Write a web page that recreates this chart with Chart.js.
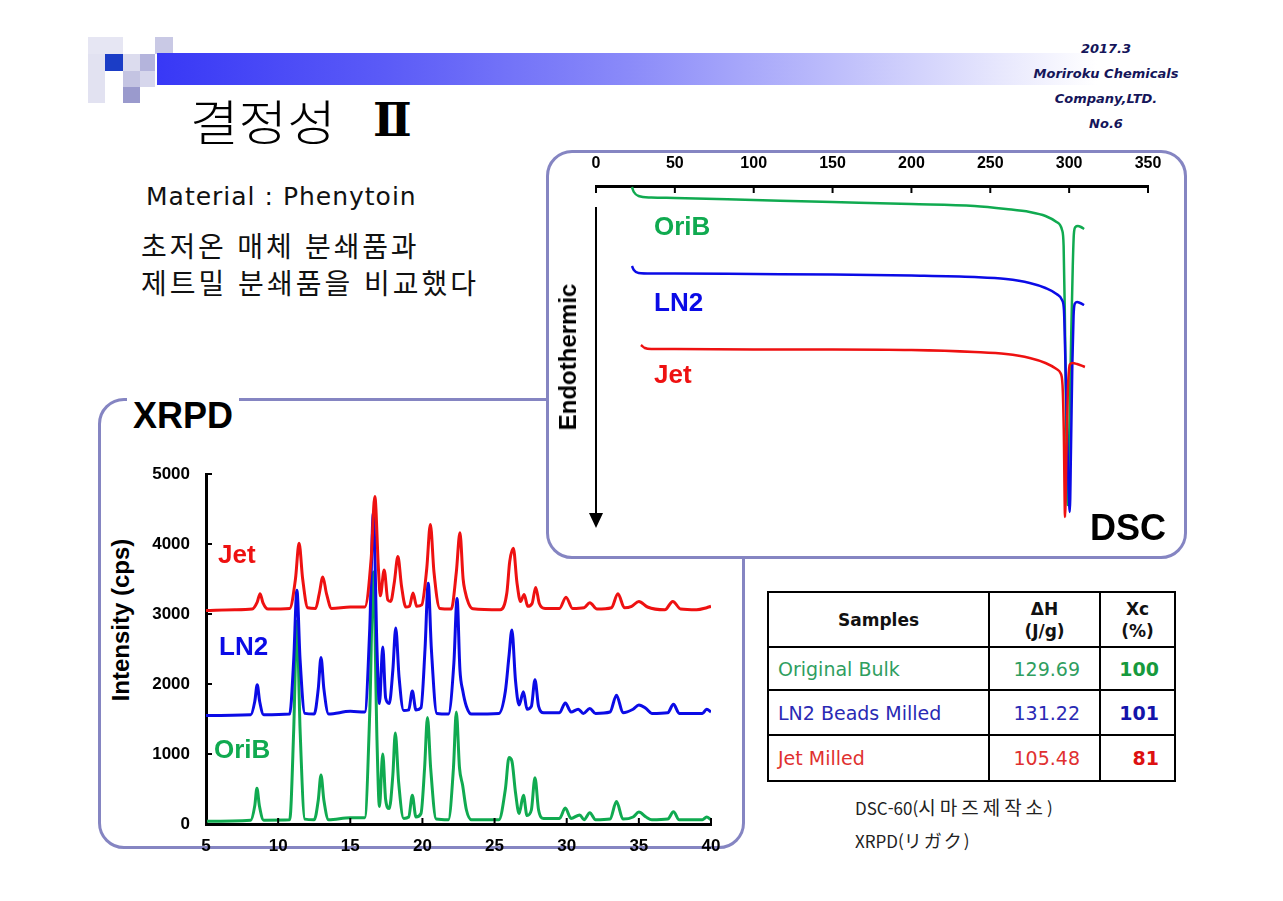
<!DOCTYPE html>
<html lang="ko">
<head>
<meta charset="utf-8">
<title>결정성 Ⅱ</title>
<script src="https://cdn.jsdelivr.net/npm/chart.js@4.4.1/dist/chart.umd.min.js"></script>
<style>
  html, body { margin: 0; padding: 0; background: #fff; }
  #slide { position: relative; width: 1283px; height: 901px; overflow: hidden; font-family: 'Liberation Sans', Arial, sans-serif; }
  .abs { position: absolute; white-space: nowrap; }
  .sq { position: absolute; }
  .corp { position: absolute; left: 1006px; width: 200px; text-align: center; font-family: 'DejaVu Sans', sans-serif; font-weight: bold; font-style: italic; font-size: 13px; color: #15155a; line-height: 16px; }
  .box { position: absolute; box-sizing: border-box; border: 3px solid #8585c2; border-radius: 26px; background: #fff; }
  .lbl { position: absolute; white-space: nowrap; font-weight: bold; line-height: 1; }
  .rot { position: absolute; white-space: nowrap; font-weight: bold; font-size: 24px; line-height: 1; transform: translate(-50%, -50%) rotate(-90deg); color: #000; }
  canvas { position: absolute; }
  table { position: absolute; left: 767px; top: 591px; border-collapse: collapse; table-layout: fixed; font-family: 'DejaVu Sans', sans-serif; }
  td { border: 2px solid #000; padding: 0; box-sizing: border-box; }
  td.h { font-weight: bold; font-size: 17px; text-align: center; line-height: 22px; color: #111; }
  td.n { font-size: 19px; padding-left: 9px; }
  td.v { font-size: 19px; text-align: right; padding-right: 19px; }
  td.x { font-size: 19px; font-weight: bold; text-align: right; padding-right: 15px; }
  .foot { position: absolute; left: 855px; font-family: 'Noto Sans CJK KR', sans-serif; font-size: 17px; color: #222; line-height: 1; white-space: nowrap; }
</style>
</head>
<body>
<div id="slide">
  <!-- header squares -->
  <div class="sq" style="left:88px;top:37px;width:35px;height:17px;background:#e6e6f3"></div>
  <div class="sq" style="left:155px;top:37px;width:18px;height:17px;background:#c9c9e5"></div>
  <div class="sq" style="left:88px;top:54px;width:17px;height:49px;background:#e2e2f1"></div>
  <div class="sq" style="left:105px;top:54px;width:18px;height:17px;background:#1b3dc6"></div>
  <div class="sq" style="left:123px;top:54px;width:17px;height:17px;background:#dcdcee"></div>
  <div class="sq" style="left:140px;top:54px;width:15px;height:17px;background:#b4b4dc"></div>
  <div class="sq" style="left:123px;top:71px;width:17px;height:16px;background:#c4c4e2"></div>
  <div class="sq" style="left:140px;top:71px;width:15px;height:16px;background:#d6d6ec"></div>
  <div class="sq" style="left:123px;top:87px;width:17px;height:16px;background:#9a9acd"></div>
  <div class="abs" style="left:157px;top:53px;width:940px;height:32px;background:linear-gradient(to right,#3838f6 0%,#5c5cf7 25%,#8a8af9 50%,#bdbdfb 72%,#e8e8fd 90%,#ffffff 100%)"></div>

  <div class="corp" style="top:41px">2017.3</div>
  <div class="corp" style="top:66px">Moriroku Chemicals</div>
  <div class="corp" style="top:91px">Company,LTD.</div>
  <div class="corp" style="top:116px">No.6</div>

  <div class="abs" style="left:190px;top:95px;font-family:'Noto Sans CJK KR',sans-serif;font-weight:300;font-size:48px;line-height:1;color:#000;transform:scaleX(1.1);transform-origin:left top">결정성</div>
  <div class="abs" style="left:373px;top:97px;font-family:'DejaVu Serif','Liberation Serif',serif;font-weight:bold;font-size:46px;line-height:1;color:#000">Ⅱ</div>

  <div class="abs" style="left:146px;top:183px;font-family:'DejaVu Sans',sans-serif;font-size:25px;line-height:28px;letter-spacing:1px;color:#111">Material : Phenytoin</div>
  <div class="abs" style="left:141px;top:229px;font-family:'Noto Sans CJK KR',sans-serif;font-size:28px;line-height:32px;letter-spacing:2.8px;color:#111">초저온 매체 분쇄품과</div>
  <div class="abs" style="left:141px;top:266px;font-family:'Noto Sans CJK KR',sans-serif;font-size:28px;line-height:32px;letter-spacing:3px;color:#111">제트밀 분쇄품을 비교했다</div>

  <!-- XRPD panel -->
  <div class="box" style="left:98px;top:398px;width:647px;height:451px"></div>
  <div class="lbl" style="left:127px;top:398px;font-size:36px;background:#fff;padding:0 6px;color:#000">XRPD</div>
  <div class="rot" style="left:121px;top:620px">Intensity (cps)</div>
  <canvas id="xrpd" width="630" height="400" style="left:100px;top:460px"></canvas>
  <div class="lbl" style="left:218px;top:541px;font-size:26px;color:#ee1111">Jet</div>
  <div class="lbl" style="left:219px;top:633px;font-size:26px;color:#0b0be6">LN2</div>
  <div class="lbl" style="left:214px;top:736px;font-size:26px;color:#10aa50">OriB</div>

  <!-- DSC panel -->
  <div class="box" style="left:546px;top:150px;width:641px;height:409px"></div>
  <canvas id="dsc" width="640" height="408" style="left:546px;top:150px"></canvas>
  <div class="rot" style="left:568px;top:357px">Endothermic</div>
  <div class="lbl" style="left:654px;top:213px;font-size:26px;color:#10aa50">OriB</div>
  <div class="lbl" style="left:654px;top:289px;font-size:26px;color:#0b0be6">LN2</div>
  <div class="lbl" style="left:654px;top:361px;font-size:26px;color:#ee1111">Jet</div>
  <div class="lbl" style="left:1090px;top:510px;font-size:36px;color:#000">DSC</div>

  <!-- result table -->
  <table style="width:407px">
    <colgroup><col style="width:221px"><col style="width:111px"><col style="width:75px"></colgroup>
    <tr style="height:55px">
      <td class="h">Samples</td>
      <td class="h">ΔH<br>(J/g)</td>
      <td class="h">Xc<br>(%)</td>
    </tr>
    <tr style="height:43px">
      <td class="n" style="color:#2f9e5f">Original Bulk</td>
      <td class="v" style="color:#2f9e5f">129.69</td>
      <td class="x" style="color:#169a3d">100</td>
    </tr>
    <tr style="height:45px">
      <td class="n" style="color:#2a2ab4">LN2 Beads Milled</td>
      <td class="v" style="color:#2a2ab4">131.22</td>
      <td class="x" style="color:#1414aa">101</td>
    </tr>
    <tr style="height:46px">
      <td class="n" style="color:#e03030">Jet Milled</td>
      <td class="v" style="color:#e03030">105.48</td>
      <td class="x" style="color:#dd1111">81</td>
    </tr>
  </table>

  <div class="foot" style="top:797px">DSC-60(<span style="font-size:19px;letter-spacing:4px">시마즈제작소</span>)</div>
  <div class="foot" style="top:831px">XRPD(<span style="font-size:18px;letter-spacing:2px">リガク</span>)</div>
</div>

<script>
// XRPD: 2-theta (deg) and intensity (cps)
const jetTheta = [5.0, 7.0, 8.2, 8.55, 8.75, 8.95, 9.3, 10.8, 11.2, 11.45, 11.7, 12.05, 12.6, 12.85, 13.1, 13.35, 13.7,
  15.0, 16.0, 16.45, 16.7, 16.95, 17.08, 17.35, 17.6, 17.8, 18.05, 18.3, 18.55, 18.85, 19.1, 19.35, 19.6, 19.95,
  20.3, 20.55, 20.8, 21.2, 22.0, 22.35, 22.6, 22.82, 22.95, 23.2, 23.5, 25.4, 25.85, 26.05, 26.3, 26.55, 26.8,
  27.05, 27.3, 27.6, 27.85, 28.1, 28.5, 29.5, 29.95, 30.4, 31.2, 31.6, 32.1, 33.1, 33.55, 34.0, 34.5, 35.0, 35.6,
  36.8, 37.35, 37.9, 39.0, 39.7, 40.0];
const jetCps = [3050, 3060, 3070, 3170, 3290, 3160, 3070, 3080, 3500, 4010, 3500, 3090, 3080, 3290, 3530, 3290, 3080,
  3100, 3100, 3800, 4680, 3650, 3260, 3630, 3200, 3180, 3450, 3820, 3400, 3100, 3110, 3300, 3110, 3130,
  3650, 4280, 3600, 3080, 3070, 3600, 4160, 3500, 3330, 3150, 3075, 3060, 3300, 3750, 3940, 3450, 3180,
  3280, 3110, 3150, 3380, 3150, 3080, 3080, 3240, 3080, 3090, 3160, 3070, 3090, 3290, 3090, 3110, 3180, 3100,
  3060, 3180, 3070, 3060, 3090, 3110];

const ln2Theta = [5.0, 8.1, 8.38, 8.55, 8.72, 9.0, 10.8, 11.08, 11.3, 11.52, 11.85, 12.5, 12.78, 12.97, 13.17, 13.5,
  15.0, 16.0, 16.35, 16.6, 16.85, 17.02, 17.25, 17.45, 17.7, 17.95, 18.15, 18.38, 18.7, 19.05, 19.3, 19.55, 19.9,
  20.18, 20.4, 20.62, 21.0, 21.8, 22.18, 22.4, 22.6, 22.8, 23.05, 23.4, 25.3, 25.75, 26.0, 26.2, 26.45, 26.7,
  27.0, 27.25, 27.55, 27.8, 28.05, 28.4, 29.5, 29.9, 30.3, 30.8, 31.15, 31.6, 32.0, 33.0, 33.45, 33.9,
  34.6, 35.0, 35.5, 35.9, 37.0, 37.4, 37.8, 39.4, 39.7, 40.0];
const ln2Cps = [1550, 1560, 1750, 1990, 1750, 1560, 1570, 2350, 3340, 2350, 1580, 1570, 1930, 2380, 1930, 1570,
  1610, 1600, 2800, 4450, 2500, 1720, 2530, 1800, 1720, 2200, 2800, 2100, 1620, 1630, 1900, 1630, 1660,
  2500, 3440, 2500, 1580, 1570, 2300, 3220, 2200, 1900, 1680, 1570, 1580, 1900, 2400, 2770, 2050, 1700,
  1890, 1640, 1680, 2060, 1680, 1590, 1590, 1730, 1600, 1640, 1580, 1650, 1580, 1600, 1840, 1590,
  1640, 1700, 1650, 1580, 1590, 1710, 1580, 1580, 1640, 1600];

const oribTheta = [5.0, 8.1, 8.38, 8.53, 8.7, 9.0, 10.8, 11.08, 11.3, 11.52, 11.85, 12.5, 12.78, 12.97, 13.17, 13.5,
  15.0, 16.0, 16.35, 16.6, 16.85, 17.02, 17.25, 17.45, 17.7, 17.95, 18.12, 18.35, 18.7, 19.05, 19.3, 19.55, 19.9,
  20.15, 20.35, 20.57, 20.95, 21.8, 22.15, 22.35, 22.57, 22.78, 23.05, 23.4, 25.3, 25.75, 26.0, 26.2, 26.45, 26.7,
  27.0, 27.25, 27.55, 27.8, 28.05, 28.4, 29.5, 29.9, 30.3, 30.9, 31.2, 31.6, 32.0, 33.0, 33.45, 33.9,
  34.6, 35.0, 35.5, 35.9, 37.0, 37.4, 37.8, 39.4, 39.7, 40.0];
const oribCps = [40, 55, 260, 510, 260, 55, 60, 1350, 2900, 1350, 70, 60, 340, 700, 340, 60,
  90, 90, 1600, 3600, 1200, 250, 1000, 350, 220, 700, 1300, 600, 80, 100, 410, 100, 150,
  800, 1520, 800, 70, 60, 800, 1600, 800, 560, 200, 60, 60, 500, 950, 900, 450, 150,
  410, 120, 200, 660, 200, 80, 80, 230, 80, 130, 60, 160, 60, 70, 320, 70,
  100, 170, 100, 60, 70, 175, 60, 60, 100, 60];

// DSC: temperature (deg C) and heat flow (arbitrary units, endothermic down)
const oribTemp = [22.8, 24, 27, 35, 50, 100, 150, 200, 240, 260, 275, 285, 292, 295.5, 296.5, 297.2, 298, 299,
  300.2, 301.3, 302.3, 303, 304, 305.5, 307.5, 309.5];
const oribFlow = [-0.1, -0.6, -1.0, -1.15, -1.2, -1.4, -1.6, -1.8, -2.0, -2.3, -2.6, -3.0, -3.6, -4.4, -6.0, -12.0, -22.0, -31.9,
  -24.0, -15.0, -8.0, -4.8, -4.1, -4.0, -4.1, -4.3];

const ln2Temp = [22.8, 24, 27, 35, 50, 100, 150, 200, 240, 260, 275, 285, 292, 295.5, 296.7, 297.6, 298.6, 299.6,
  300.4, 301.2, 302, 302.8, 303.5, 305, 307, 309.5];
const ln2Flow = [-8.0, -8.4, -8.7, -8.75, -8.75, -8.8, -8.85, -8.95, -9.1, -9.3, -9.7, -10.2, -10.8, -11.4, -12.4, -17.4, -24.0, -30.0,
  -32.6, -26.0, -18.0, -13.0, -11.8, -11.6, -11.7, -11.9];

const jetTemp = [28.5, 31, 35, 50, 100, 150, 200, 240, 260, 275, 285, 292, 294.5, 295.8, 296.6, 297.4, 298.3, 299.2,
  300, 300.7, 302, 305, 310];
const jetFlow = [-15.9, -16.2, -16.3, -16.3, -16.35, -16.35, -16.4, -16.6, -16.8, -17.2, -17.7, -18.3, -18.7, -19.9, -24.4, -33.1, -26.4, -20.4,
  -18.2, -17.8, -17.7, -17.8, -18.1];

const RED = '#ee1111', BLUE = '#0b0be6', GREEN = '#10aa50';

Chart.defaults.font.family = "'Liberation Sans', Arial, sans-serif";

function pts(xs, ys) {
  return xs.map((x, i) => ({ x: x, y: ys[i] }));
}

// keep the plot box where the layout padding puts it (no extra room for edge labels)
function noEdgePad(s) {
  s.paddingTop = 0; s.paddingBottom = 0; s.paddingLeft = 0; s.paddingRight = 0;
}

// small ticks pointing into the plot
const inTicks = {
  id: 'inTicks',
  afterDraw(chart, args, opts) {
    const ctx = chart.ctx;
    ctx.save();
    ctx.strokeStyle = '#000';
    ctx.lineWidth = 2;
    opts.axes.forEach(id => {
      const s = chart.scales[id];
      s.ticks.forEach(t => {
        const p = s.getPixelForValue(t.value);
        ctx.beginPath();
        if (s.isHorizontal()) {
          if (s.position === 'top') { ctx.moveTo(p, s.bottom); ctx.lineTo(p, s.bottom + opts.len); }
          else { ctx.moveTo(p, s.top); ctx.lineTo(p, s.top - opts.len); }
        } else {
          if (t.value === s.min) return;
          ctx.moveTo(s.right, p); ctx.lineTo(s.right + opts.len, p);
        }
        ctx.stroke();
      });
    });
    ctx.restore();
  }
};

// the "endothermic" arrow of the DSC plot
const endoArrow = {
  id: 'endoArrow',
  afterDraw(chart) {
    const { ctx, chartArea } = chart;
    const x = chart.scales.x.getPixelForValue(0);
    ctx.save();
    ctx.strokeStyle = '#000';
    ctx.fillStyle = '#000';
    ctx.lineWidth = 2;
    ctx.beginPath();
    ctx.moveTo(x, chartArea.top + 21);
    ctx.lineTo(x, chartArea.bottom - 20);
    ctx.stroke();
    ctx.beginPath();
    ctx.moveTo(x - 7, chartArea.bottom - 23);
    ctx.lineTo(x + 7, chartArea.bottom - 23);
    ctx.lineTo(x, chartArea.bottom - 8);
    ctx.closePath();
    ctx.fill();
    ctx.restore();
  }
};

const xrpdStyle = { pointRadius: 0, fill: false, borderWidth: 3, cubicInterpolationMode: 'monotone' };

new Chart(document.getElementById('xrpd'), {
  type: 'line',
  data: {
    datasets: [
      { label: 'Jet', data: pts(jetTheta, jetCps), borderColor: RED, ...xrpdStyle },
      { label: 'LN2', data: pts(ln2Theta, ln2Cps), borderColor: BLUE, ...xrpdStyle },
      { label: 'OriB', data: pts(oribTheta, oribCps), borderColor: GREEN, ...xrpdStyle }
    ]
  },
  options: {
    responsive: false,
    animation: false,
    layout: { padding: { top: 14, right: 19, bottom: 0, left: 0 } },
    plugins: { legend: { display: false }, tooltip: { enabled: false }, inTicks: { axes: ['x', 'y'], len: 6 } },
    scales: {
      x: {
        type: 'linear', min: 5, max: 40,
        ticks: { stepSize: 5, autoSkip: false, maxRotation: 0, padding: 12, color: '#000', font: { size: 17, weight: 'bold' } },
        grid: { drawOnChartArea: false, drawTicks: false },
        border: { color: '#000', width: 3 },
        afterFit(s) { s.height = 36; noEdgePad(s); }
      },
      y: {
        min: 0, max: 5000,
        ticks: { stepSize: 1000, padding: 16, color: '#000', font: { size: 17, weight: 'bold' }, callback: v => String(v) },
        grid: { drawOnChartArea: false, drawTicks: false },
        border: { color: '#000', width: 3 },
        afterFit(s) { s.width = 106; noEdgePad(s); }
      }
    }
  },
  plugins: [inTicks]
});

const dscStyle = { pointRadius: 0, fill: false, cubicInterpolationMode: 'monotone', borderWidth: 2.5 };

new Chart(document.getElementById('dsc'), {
  type: 'line',
  data: {
    datasets: [
      { label: 'Jet', data: pts(jetTemp, jetFlow), borderColor: RED, ...dscStyle },
      { label: 'LN2', data: pts(ln2Temp, ln2Flow), borderColor: BLUE, ...dscStyle },
      { label: 'OriB', data: pts(oribTemp, oribFlow), borderColor: GREEN, ...dscStyle }
    ]
  },
  options: {
    responsive: false,
    animation: false,
    layout: { padding: { top: 0, right: 38, bottom: 22, left: 50 } },
    plugins: { legend: { display: false }, tooltip: { enabled: false }, inTicks: { axes: ['x'], len: 7 } },
    scales: {
      x: {
        type: 'linear', position: 'top', min: 0, max: 350,
        ticks: { stepSize: 50, autoSkip: false, maxRotation: 0, padding: 13, color: '#000', font: { size: 16, weight: 'bold' } },
        grid: { drawOnChartArea: false, drawTicks: false },
        border: { color: '#000', width: 3 },
        afterFit(s) { s.height = 36; noEdgePad(s); }
      },
      y: { display: false, min: -35, max: 0 }
    }
  },
  plugins: [inTicks, endoArrow]
});
</script>
</body>
</html>
